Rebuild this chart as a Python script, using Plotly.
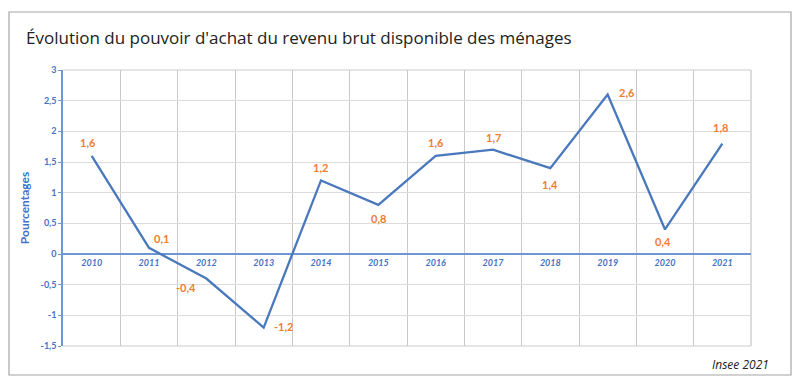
import plotly.graph_objects as go

years = ["2010", "2011", "2012", "2013", "2014", "2015", "2016", "2017", "2018", "2019", "2020", "2021"]
values = [1.6, 0.1, -0.4, -1.2, 1.2, 0.8, 1.6, 1.7, 1.4, 2.6, 0.4, 1.8]
y_tickvals = [-1.5, -1, -0.5, 0, 0.5, 1, 1.5, 2, 2.5, 3]
y_ticktext = ["-1,5", "-1", "-0,5", "0", "0,5", "1", "1,5", "2", "2,5", "3"]
# label offsets (px) relative to each point
label_dx = [-4, 12, -20, 20, -1, 0, 0, 0, 0, 19, -2, -2]
label_dy = [13, 9, -9, 1, 13, -14, 13, 12, -16, 2, -12, 16]

def fmt(v):
    return ("%g" % v).replace(".", ",")

BLUE = "#4472c4"
ORANGE = "#ed7d31"
FONT = "Lato"

fig = go.Figure()
fig.add_trace(go.Scatter(
    x=years, y=values, mode="lines",
    line=dict(color="#4a78bd", width=2.3),
    hoverinfo="skip", showlegend=False,
))

for i, (v, dx, dy) in enumerate(zip(values, label_dx, label_dy)):
    fig.add_annotation(
        x=i, y=v, xref="x", yref="y", text="<b>" + fmt(v) + "</b>", showarrow=False,
        xshift=dx, yshift=dy,
        font=dict(family=FONT, size=11, color=ORANGE),
    )

# page body has an 8px margin: figure is sized/offset accordingly
fig.update_layout(
    width=792, height=373,
    margin=dict(l=55, r=49, t=62, b=35),
    paper_bgcolor="white", plot_bgcolor="white",
    showlegend=False,
    xaxis=dict(
        type="category", tickson="boundaries",
        showgrid=True, gridcolor="#c9c9c9", gridwidth=1.3,
        anchor="free", position=(346 - 253.7) / 276,
        showline=False, ticks="",
        tickfont=dict(family=FONT, size=9, color=BLUE, style="italic", weight="bold"),
        ticklabelstandoff=2,
        range=[-0.5, 11.5], fixedrange=True,
    ),
    yaxis=dict(
        range=[-1.5, 3], tickvals=y_tickvals, ticktext=y_ticktext,
        showgrid=True, gridcolor="#dcdcdc", gridwidth=1.3,
        zeroline=True, zerolinecolor="#6f96d0", zerolinewidth=1.5,
        showline=True, linecolor="#6f96d0", linewidth=1.5,
        ticks="outside", ticklen=3, tickcolor="#6f96d0",
        tickfont=dict(family=FONT, size=9, color=BLUE, weight="bold"),
        title=dict(text="<b>Pourcentages</b>", font=dict(family=FONT, size=12, color=BLUE), standoff=8),
        fixedrange=True,
    ),
)

# plot frame top/right/bottom gridlines
fig.add_shape(type="line", xref="paper", yref="paper", x0=0, x1=1, y0=1, y1=1,
              line=dict(color="#dcdcdc", width=1.3), layer="below")
fig.add_shape(type="line", xref="paper", yref="paper", x0=1, x1=1, y0=0, y1=1,
              line=dict(color="#c9c9c9", width=1.3), layer="below")
fig.add_shape(type="line", xref="paper", yref="paper", x0=0, x1=1, y0=0, y1=0,
              line=dict(color="#dcdcdc", width=1.3), layer="below")

# outer border box
fig.add_shape(type="rect", xref="paper", yref="paper",
              x0=(9 - 63) / 688, x1=(791 - 63) / 688,
              y0=(346 - 375) / 276, y1=(346 - 12) / 276,
              line=dict(color="#a6a6a6", width=1.2), fillcolor="rgba(0,0,0,0)")

fig.add_annotation(
    xref="paper", yref="paper", x=(24 - 63) / 688, y=(346 - 38) / 276,
    xanchor="left", yanchor="middle", showarrow=False,
    text="Évolution du pouvoir d'achat du revenu brut disponible des ménages",
    font=dict(family="Open Sans", size=17, color="#222222"),
)
fig.add_annotation(
    xref="paper", yref="paper", x=(771 - 63) / 688, y=(346 - 364) / 276,
    xanchor="right", yanchor="middle", showarrow=False,
    text="<i>Insee 2021</i>",
    font=dict(family="Open Sans", size=12, color="#222222"),
)

fig.write_html("out.html")
